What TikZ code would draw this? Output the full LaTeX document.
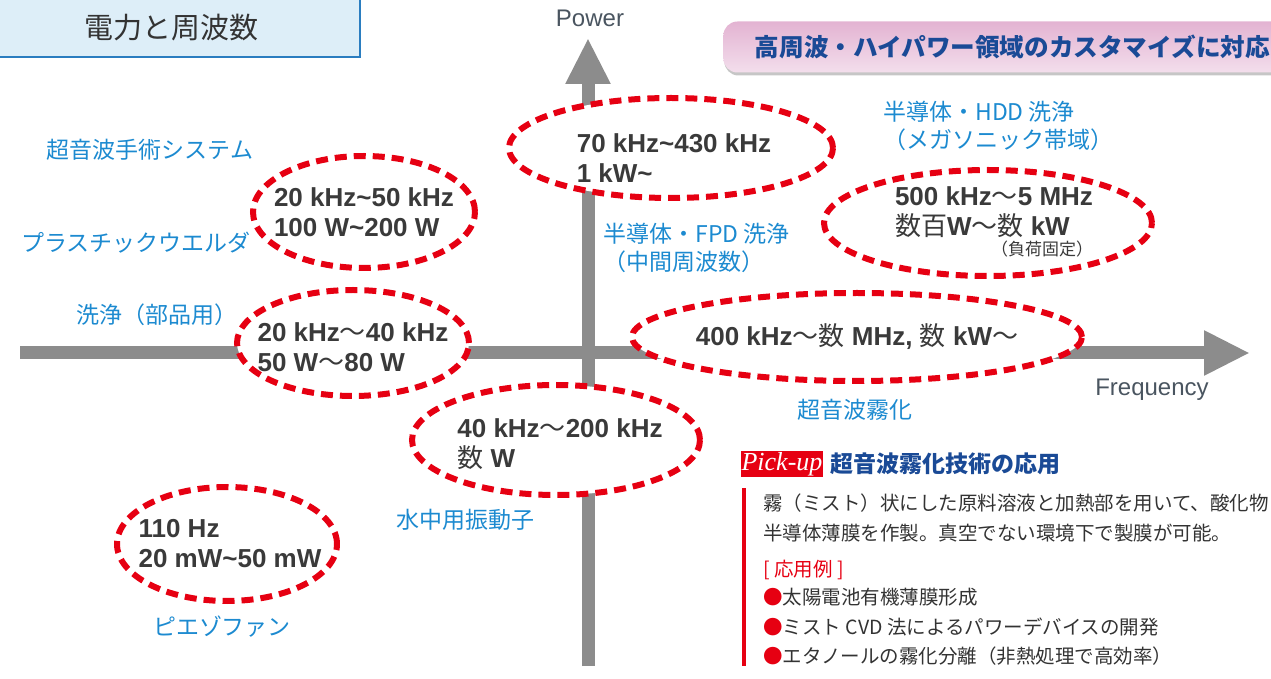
\documentclass[tikz,border=0pt]{standalone}
\usepackage{fontspec}
\setmainfont{Liberation Sans}
\newfontfamily\jp{Noto Sans CJK JP}
\newfontfamily\pickfont{Liberation Serif}
\usetikzlibrary{shapes.geometric,arrows.meta,shadows,positioning}

\definecolor{axisgray}{HTML}{8C8C8C}
\definecolor{zonered}{HTML}{E60012}
\definecolor{valtext}{HTML}{3A3A3A}
\definecolor{useblue}{HTML}{1C8AD0}
\definecolor{axistext}{HTML}{4A5560}
\definecolor{bannerblue}{HTML}{1A4A96}
\definecolor{bannertop}{HTML}{E3B3D2}
\definecolor{bannerbot}{HTML}{F3DEEC}
\definecolor{boxfill}{HTML}{DDEEF8}
\definecolor{boxblue}{HTML}{2A7DC0}
\definecolor{bodytext}{HTML}{333333}

\newcommand\jm[1]{{\jp\mdseries #1}}
\newcommand\wv{{\jp\mdseries 〜}}
\newcommand\tld{\textasciitilde}

\begin{document}
\begin{tikzpicture}[x=0.5pt,y=-0.5pt,inner sep=0pt,
  zone/.style={ellipse,draw=zonered,fill=white,line width=3pt,
    dash pattern=on 6pt off 3.5pt},
  val/.style={align=left,text=valtext,font=\fontsize{13}{15}\selectfont\bfseries},
  usage/.style={text=useblue,font=\jp\fontsize{11.5}{14}\selectfont,align=left},
  axisline/.style={draw=axisgray,line width=6.5pt,-{Triangle[width=21pt,length=23pt]}},
  axlabel/.style={text=axistext,font=\fontsize{12}{13}\selectfont},
  pickbody/.style={anchor=west,text=bodytext,align=left,
    font=\jp\fontsize{9.75}{14.75}\selectfont}]

\clip (0,0) rectangle (1271,679);

\filldraw[fill=boxfill,draw=boxblue,line width=1.2pt] (-10,-10) rectangle (360,57);
\node[text=bodytext,font=\jp\fontsize{14.5}{14.5}\selectfont] (title) at (171,28) {電力と周波数};

\node[anchor=west,minimum width=289pt,minimum height=25.5pt,rounded corners=7pt,
  top color=bannertop,bottom color=bannerbot,
  drop shadow={shadow xshift=0.5pt,shadow yshift=-1.5pt,opacity=0.45},
  text=bannerblue,font=\jp\bfseries\fontsize{12.3}{12.3}\selectfont] (banner) at (723,47)
  {高周波・ハイパワー領域のカスタマイズに対応};

\coordinate (xs) at (20,353);
\coordinate (xe) at (1250,353);
\coordinate (ys) at (588,666);
\coordinate (ye) at (588,38);
\draw[axisline] (xs) -- (xe);
\draw[axisline] (ys) -- (ye);

\node[axlabel] (power) at (590,18) {Power};
\node[axlabel] (freq) at (1152,390) {Frequency};

\node[zone,minimum width=111pt,minimum height=56pt] (e1) at (364,212) {};
\node[zone,minimum width=116pt,minimum height=53pt] (e2) at (353,343) {};
\node[zone,minimum width=162pt,minimum height=50pt] (e3) at (671,148) {};
\node[zone,minimum width=164pt,minimum height=53pt] (e4) at (988,223) {};
\node[zone,minimum width=225pt,minimum height=44pt] (e5) at (857,337) {};
\node[zone,minimum width=144pt,minimum height=55pt] (e6) at (556,440) {};
\node[zone,minimum width=110pt,minimum height=57pt] (e7) at (227,544) {};

\node[val] (v1) at (e1) {20 kHz\tld 50 kHz\\100 W\tld 200 W};
\node[val] (v2) at ([yshift=-2pt]e2) {20 kHz\wv 40 kHz\\50 W\wv 80 W};
\node[val] (v3) at ([xshift=1.5pt,yshift=-5pt]e3) {70 kHz\tld 430 kHz\\1 kW\tld};
\node[val] (v4) at ([xshift=3pt,yshift=5.5pt]e4) {500 kHz\wv 5 MHz\\\jm{数百}W\wv\jm{数} kW};
\node[val] (v5) at (e5) {400 kHz\wv\jm{数} MHz, \jm{数} kW\wv};
\node[val] (v6) at ([xshift=2pt,yshift=-2pt]e6) {40 kHz\wv 200 kHz\\\jm{数} W};
\node[val] (v7) at ([xshift=1.5pt]e7) {110 Hz\\20 mW\tld 50 mW};

\node[text=valtext,font=\jp\fontsize{8.5}{8.5}\selectfont] (load) at (1042,249) {（負荷固定）};

\node[usage] (surgery) at (150,150) {超音波手術システム};
\node[usage] (welder) at (136,243) {プラスチックウエルダ};
\node[usage] (parts) at (157,315) {洗浄（部品用）};
\node[usage,anchor=west] (fpd) at (603,248) {半導体・FPD 洗浄\\（中間周波数）};
\node[usage,anchor=west] (hdd) at (883,126) {半導体・HDD 洗浄\\（メガソニック帯域）};
\node[usage] (mist) at (855,410) {超音波霧化};
\node[usage] (water) at (465,520) {水中用振動子};
\node[usage] (fan) at (222,627) {ピエゾファン};

\node[fill=zonered,text=white,minimum width=41pt,minimum height=13pt,
  font=\pickfont\itshape\fontsize{13}{13}\selectfont] (pick) at (782,464) {Pick-up};
\node[right=3.5pt of pick,text=bannerblue,font=\jp\bfseries\fontsize{11.5}{11.5}\selectfont]
  (picktitle) {超音波霧化技術の応用};
\fill[zonered] (742,488) rectangle (746,666);

\node[pickbody] (para) at (763,518)
  {霧（ミスト）状にした原料溶液と加熱部を用いて、酸化物\\半導体薄膜を作製。真空でない環境下で製膜が可能。};
\node[pickbody,text=zonered] (examples) at (763,570) {[ 応用例 ]};
\node[pickbody] (bullets) at (763,627)
  {{\color{zonered}●}太陽電池有機薄膜形成\\
   {\color{zonered}●}ミスト CVD 法によるパワーデバイスの開発\\
   {\color{zonered}●}エタノールの霧化分離（非熱処理で高効率）};

\end{tikzpicture}
\end{document}
